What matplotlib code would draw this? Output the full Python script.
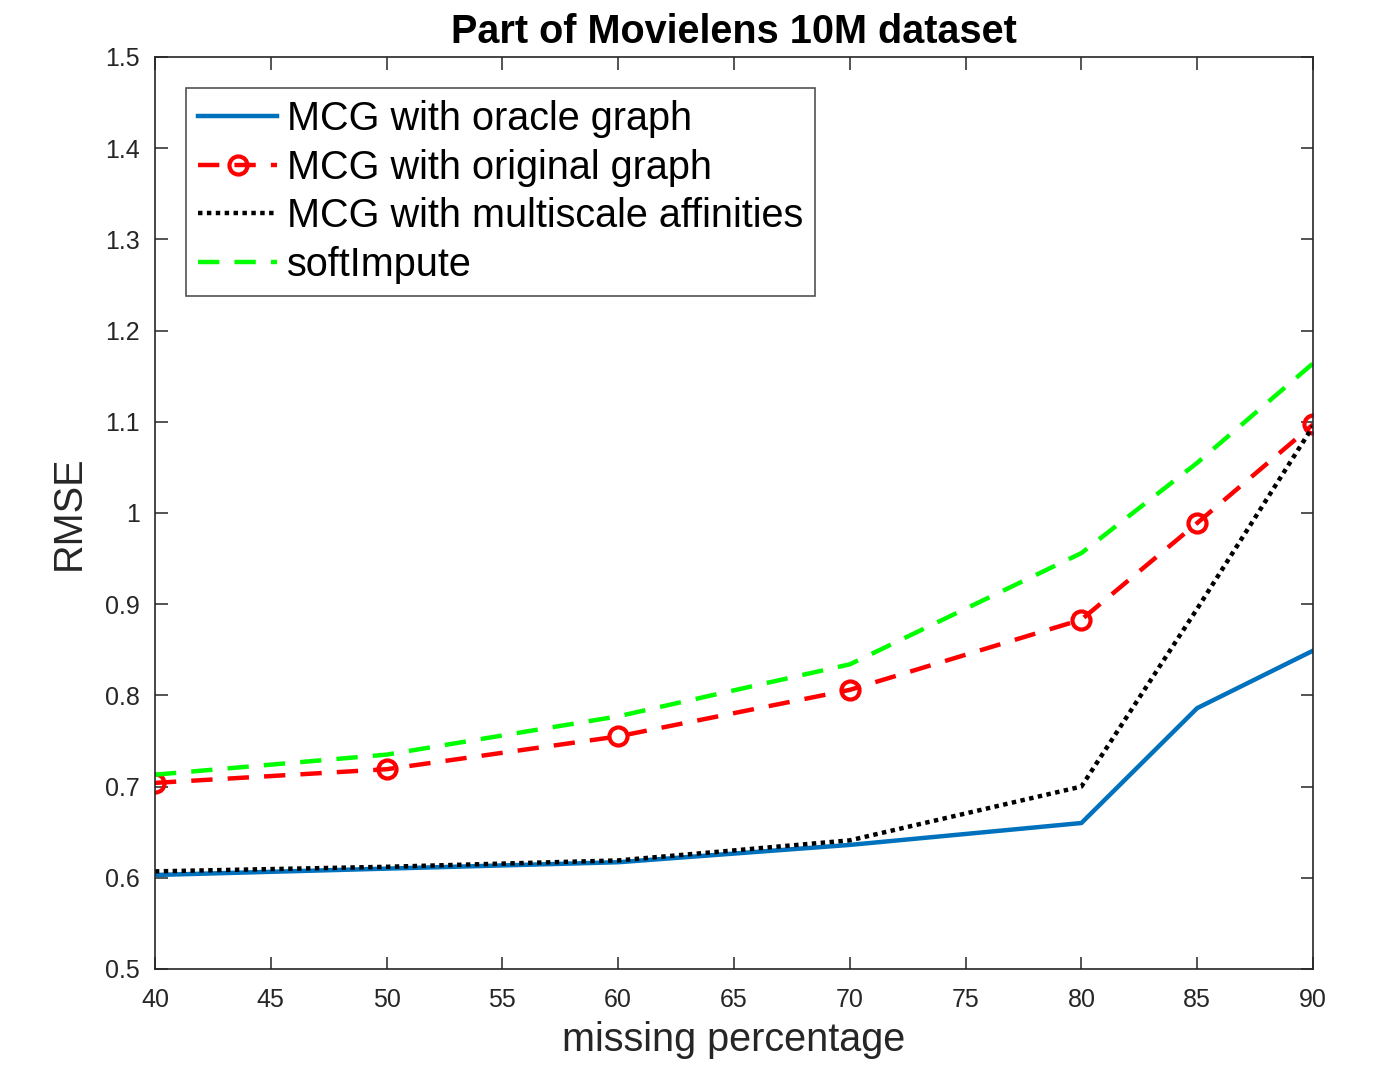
import numpy as np
import matplotlib.pyplot as plt

plt.rcParams['font.family'] = ['Liberation Sans', 'DejaVu Sans']

# missing percentage (x) and RMSE per method
missing = [40, 50, 60, 70, 80, 85, 90]
rmse_oracle = [0.603, 0.610, 0.617, 0.636, 0.660, 0.786, 0.849]
rmse_original = [0.704, 0.719, 0.755, 0.806, 0.883, 0.989, 1.097]
rmse_multiscale = [0.607, 0.612, 0.619, 0.641, 0.700, 0.895, 1.095]
rmse_softimpute = [0.713, 0.735, 0.777, 0.834, 0.956, 1.055, 1.164]

labels = ['MCG with oracle graph', 'MCG with original graph',
          'MCG with multiscale affinities', 'softImpute']

fig = plt.figure(figsize=(13.83, 10.67), dpi=100)
ax = fig.add_axes([0.112, 0.0919, 0.8374, 0.8547])

ax.plot(missing, rmse_oracle, color='#0072BD', lw=3.2, label=labels[0])
ax.plot(missing, rmse_original, color='#FF0000', lw=3.2, dashes=(4.8, 3.4),
        marker='o', markersize=13, markerfacecolor='none', markeredgewidth=3,
        label=labels[1])
ax.plot(missing, rmse_multiscale, color='black', lw=3.2, dashes=(1, 1),
        label=labels[2])
ax.plot(missing, rmse_softimpute, color='#00FF00', lw=3.2, dashes=(4.8, 3.4),
        label=labels[3])

ax.set_xlim(40, 90)
ax.set_ylim(0.5, 1.5)
ax.set_xticks(np.arange(40, 91, 5))
ax.set_yticks(np.arange(0.5, 1.51, 0.1))
ax.set_yticklabels(['0.5', '0.6', '0.7', '0.8', '0.9', '1', '1.1', '1.2', '1.3', '1.4', '1.5'])
ax.tick_params(direction='in', top=True, right=True, length=9, width=1.1,
               labelsize=18, colors='#262626', pad=11)
ax.tick_params(axis='x', pad=14)
for s in ax.spines.values():
    s.set_color('#262626')
    s.set_linewidth(1.2)

ax.set_xlabel('missing percentage', fontsize=28.5, color='#262626', labelpad=6)
ax.set_ylabel('RMSE', fontsize=28.5, color='#262626', labelpad=12)
ax.set_title('Part of Movielens 10M dataset', fontsize=28.5, fontweight='bold', pad=10)

leg = ax.legend(loc='upper left', bbox_to_anchor=(0.027, 0.966), fontsize=28.5,
                frameon=True, fancybox=False, edgecolor='#262626',
                handlelength=2.0, handletextpad=0.25, borderpad=0.3,
                labelspacing=0.27, borderaxespad=0)
leg.get_frame().set_linewidth(1.2)

fig.savefig('out.png', dpi=100)
